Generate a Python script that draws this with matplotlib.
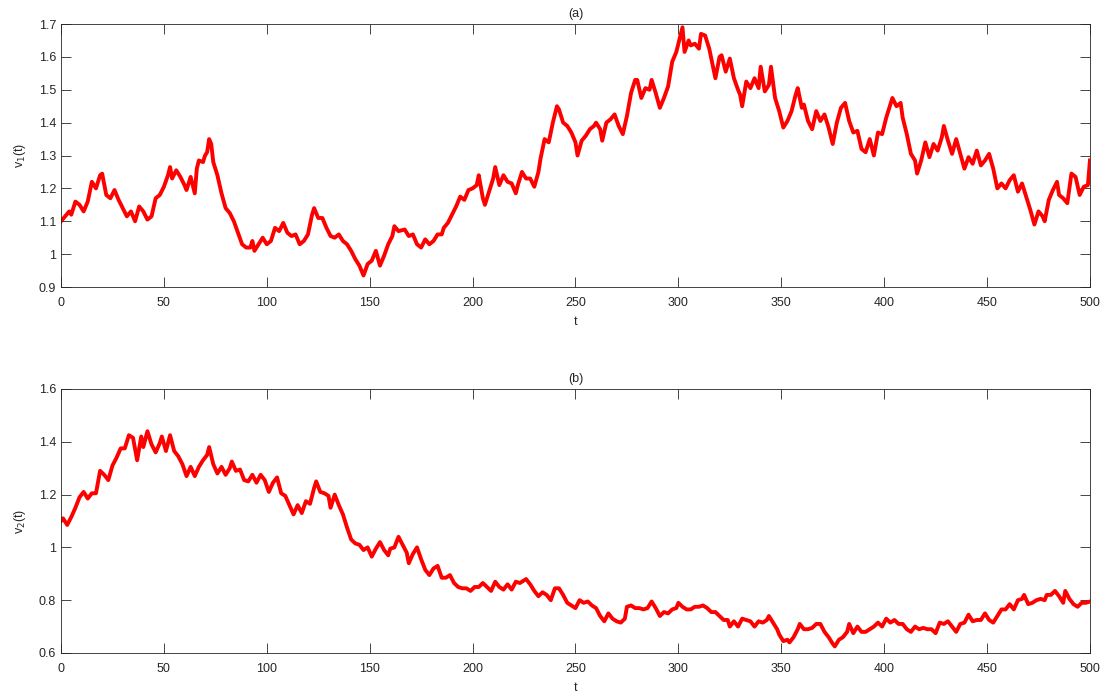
import matplotlib
matplotlib.use('Agg')
import matplotlib.pyplot as plt

# values
t1 = [0, 2, 4, 5, 7, 9, 11, 13, 15, 17, 19, 20, 22, 24, 26, 28, 30, 32, 34, 36,
      38, 40, 42, 44, 46, 48, 50, 52, 53, 54, 56, 58, 60, 61, 63, 65, 66, 67, 69, 70,
      71, 72, 73, 74, 76, 78, 80, 82, 84, 86, 88, 90, 92, 93, 94, 96, 98, 100, 102, 104,
      106, 108, 110, 112, 114, 116, 118, 120, 122, 123, 125, 127, 129, 131, 133, 135, 137, 139, 141, 143,
      145, 147, 149, 151, 153, 155, 157, 159, 161, 162, 164, 167, 169, 171, 173, 175, 177, 179, 181, 183,
      185, 186, 188, 190, 192, 194, 196, 198, 200, 202, 203, 205, 206, 208, 210, 211, 213, 215, 217, 219,
      221, 222, 224, 226, 228, 230, 232, 233, 235, 237, 239, 241, 242, 244, 246, 248, 250, 251, 253, 255,
      257, 259, 260, 262, 263, 265, 267, 269, 271, 273, 275, 277, 279, 280, 282, 284, 286, 287, 289, 291,
      293, 295, 297, 299, 301, 302, 303, 305, 306, 308, 310, 311, 313, 315, 316, 318, 320, 321, 323, 325,
      327, 329, 330, 331, 333, 335, 337, 339, 340, 342, 344, 345, 347, 349, 351, 353, 355, 357, 358, 360,
      361, 363, 365, 367, 369, 371, 373, 375, 377, 379, 381, 383, 385, 387, 389, 391, 393, 395, 397, 399,
      401, 403, 404, 406, 408, 409, 411, 413, 415, 416, 418, 420, 422, 424, 426, 428, 429, 431, 433, 435,
      437, 439, 441, 443, 445, 447, 449, 451, 453, 455, 457, 459, 461, 463, 465, 467, 469, 471, 473, 475,
      477, 478, 480, 482, 484, 485, 487, 489, 491, 493, 495, 497, 499, 500]
v1 = [1.10, 1.115, 1.13, 1.12, 1.16, 1.15, 1.13, 1.16, 1.22, 1.20, 1.24, 1.245, 1.18, 1.17, 1.195, 1.165, 1.14, 1.115, 1.13, 1.10,
      1.145, 1.13, 1.105, 1.115, 1.17, 1.18, 1.205, 1.24, 1.265, 1.23, 1.255, 1.235, 1.21, 1.195, 1.235, 1.185, 1.26, 1.285, 1.28, 1.30,
      1.31, 1.35, 1.335, 1.28, 1.24, 1.185, 1.14, 1.125, 1.10, 1.065, 1.03, 1.02, 1.02, 1.04, 1.01, 1.03, 1.05, 1.03, 1.04, 1.08,
      1.07, 1.095, 1.065, 1.055, 1.06, 1.03, 1.04, 1.06, 1.12, 1.14, 1.11, 1.11, 1.08, 1.055, 1.05, 1.06, 1.04, 1.03, 1.01, 0.985,
      0.965, 0.935, 0.97, 0.98, 1.01, 0.965, 0.995, 1.03, 1.055, 1.085, 1.07, 1.075, 1.055, 1.06, 1.03, 1.02, 1.045, 1.03, 1.04, 1.06,
      1.06, 1.08, 1.095, 1.12, 1.145, 1.175, 1.165, 1.195, 1.20, 1.21, 1.24, 1.17, 1.15, 1.19, 1.23, 1.265, 1.21, 1.24, 1.22, 1.215,
      1.185, 1.21, 1.25, 1.23, 1.23, 1.205, 1.25, 1.29, 1.35, 1.34, 1.40, 1.45, 1.44, 1.40, 1.39, 1.37, 1.34, 1.30, 1.345, 1.36,
      1.38, 1.39, 1.40, 1.38, 1.345, 1.40, 1.41, 1.425, 1.39, 1.365, 1.42, 1.49, 1.53, 1.53, 1.475, 1.505, 1.50, 1.53, 1.49, 1.445,
      1.475, 1.51, 1.585, 1.615, 1.665, 1.69, 1.615, 1.65, 1.635, 1.64, 1.625, 1.67, 1.665, 1.625, 1.595, 1.535, 1.60, 1.605, 1.555, 1.595,
      1.535, 1.50, 1.485, 1.45, 1.525, 1.505, 1.535, 1.505, 1.57, 1.495, 1.515, 1.57, 1.475, 1.435, 1.385, 1.405, 1.435, 1.485, 1.505, 1.445,
      1.455, 1.405, 1.38, 1.435, 1.405, 1.425, 1.385, 1.335, 1.40, 1.445, 1.46, 1.405, 1.37, 1.375, 1.32, 1.31, 1.35, 1.30, 1.37, 1.365,
      1.415, 1.455, 1.475, 1.45, 1.46, 1.415, 1.365, 1.305, 1.285, 1.245, 1.285, 1.34, 1.295, 1.335, 1.315, 1.355, 1.39, 1.345, 1.305, 1.35,
      1.305, 1.26, 1.295, 1.275, 1.315, 1.27, 1.285, 1.305, 1.26, 1.20, 1.215, 1.20, 1.225, 1.24, 1.19, 1.215, 1.175, 1.135, 1.09, 1.13,
      1.115, 1.10, 1.165, 1.195, 1.22, 1.18, 1.17, 1.155, 1.245, 1.235, 1.18, 1.205, 1.21, 1.285]

t2 = [0, 1, 3, 5, 7, 9, 11, 13, 15, 17, 19, 21, 23, 25, 27, 29, 31, 33, 35, 37,
      39, 40, 42, 44, 46, 48, 49, 51, 53, 55, 57, 59, 61, 63, 65, 67, 69, 71, 72, 74,
      76, 78, 80, 82, 83, 85, 87, 89, 91, 93, 95, 97, 99, 101, 103, 105, 107, 109, 111, 113,
      115, 117, 119, 121, 123, 124, 126, 128, 130, 131, 133, 135, 137, 139, 141, 143, 145, 147, 149, 151,
      153, 155, 157, 159, 160, 162, 164, 166, 168, 169, 171, 173, 175, 177, 179, 181, 183, 185, 187, 189,
      191, 193, 195, 197, 199, 201, 203, 205, 207, 209, 211, 213, 215, 217, 219, 221, 223, 225, 226, 228,
      230, 232, 234, 236, 238, 240, 242, 244, 246, 248, 250, 252, 254, 256, 258, 260, 262, 264, 266, 268,
      270, 272, 274, 275, 277, 279, 281, 283, 285, 287, 289, 291, 293, 295, 297, 299, 300, 302, 304, 306,
      308, 310, 312, 314, 316, 318, 320, 322, 324, 325, 327, 329, 331, 333, 335, 337, 339, 341, 343, 344,
      346, 348, 349, 351, 353, 354, 356, 358, 359, 361, 363, 365, 367, 369, 371, 373, 375, 376, 378, 380,
      382, 383, 385, 387, 389, 391, 393, 395, 397, 399, 401, 403, 405, 407, 409, 411, 413, 415, 417, 419,
      421, 423, 425, 427, 429, 431, 433, 435, 437, 439, 441, 443, 445, 447, 449, 451, 453, 455, 457, 459,
      461, 463, 465, 467, 468, 470, 472, 474, 476, 478, 479, 481, 483, 485, 487, 488, 490, 492, 494, 496,
      498, 500]
v2 = [1.10, 1.11, 1.085, 1.115, 1.15, 1.19, 1.21, 1.185, 1.205, 1.205, 1.29, 1.275, 1.255, 1.31, 1.34, 1.375, 1.375, 1.425, 1.415, 1.33,
      1.42, 1.38, 1.44, 1.39, 1.36, 1.395, 1.42, 1.365, 1.425, 1.365, 1.345, 1.315, 1.27, 1.305, 1.27, 1.305, 1.33, 1.35, 1.38, 1.315,
      1.28, 1.305, 1.275, 1.30, 1.325, 1.29, 1.295, 1.255, 1.25, 1.275, 1.245, 1.275, 1.255, 1.21, 1.245, 1.265, 1.205, 1.195, 1.16, 1.125,
      1.16, 1.13, 1.175, 1.165, 1.225, 1.25, 1.21, 1.205, 1.195, 1.15, 1.20, 1.16, 1.125, 1.075, 1.03, 1.015, 1.01, 0.99, 1.00, 0.965,
      0.995, 1.02, 0.99, 0.97, 0.995, 1.00, 1.04, 1.01, 0.98, 0.94, 0.975, 1.00, 0.955, 0.915, 0.895, 0.92, 0.93, 0.885, 0.885, 0.895,
      0.865, 0.85, 0.845, 0.845, 0.835, 0.85, 0.85, 0.865, 0.85, 0.835, 0.87, 0.85, 0.84, 0.86, 0.84, 0.87, 0.865, 0.875, 0.88, 0.86,
      0.835, 0.815, 0.83, 0.82, 0.80, 0.845, 0.845, 0.82, 0.79, 0.78, 0.77, 0.80, 0.79, 0.795, 0.78, 0.77, 0.74, 0.72, 0.75, 0.73,
      0.72, 0.715, 0.73, 0.775, 0.78, 0.77, 0.77, 0.765, 0.77, 0.795, 0.77, 0.74, 0.755, 0.75, 0.765, 0.77, 0.79, 0.775, 0.765, 0.765,
      0.775, 0.775, 0.78, 0.77, 0.755, 0.755, 0.74, 0.725, 0.725, 0.70, 0.72, 0.70, 0.73, 0.725, 0.72, 0.70, 0.72, 0.715, 0.725, 0.74,
      0.715, 0.69, 0.67, 0.645, 0.65, 0.64, 0.66, 0.69, 0.71, 0.69, 0.69, 0.695, 0.71, 0.71, 0.68, 0.66, 0.635, 0.625, 0.65, 0.66,
      0.68, 0.71, 0.675, 0.70, 0.68, 0.68, 0.69, 0.70, 0.715, 0.70, 0.73, 0.715, 0.725, 0.71, 0.71, 0.69, 0.68, 0.70, 0.69, 0.695,
      0.69, 0.69, 0.675, 0.715, 0.71, 0.72, 0.70, 0.68, 0.71, 0.715, 0.745, 0.72, 0.725, 0.725, 0.75, 0.725, 0.715, 0.74, 0.765, 0.765,
      0.785, 0.765, 0.80, 0.805, 0.82, 0.785, 0.79, 0.80, 0.805, 0.80, 0.82, 0.82, 0.835, 0.815, 0.79, 0.835, 0.805, 0.785, 0.775, 0.79,
      0.79, 0.795]

plt.rcParams['font.family'] = ['Liberation Sans', 'DejaVu Sans']
plt.rcParams['font.size'] = 9

fig = plt.figure(figsize=(11.07, 6.98), dpi=100)
ax1 = fig.add_axes([0.0551, 0.5888, 0.9295, 0.3768])
ax2 = fig.add_axes([0.0551, 0.0645, 0.9295, 0.3782])

panels = [(ax1, t1, v1, '(a)', r'v$_1$(t)', (0.9, 1.7), [0.9, 1.0, 1.1, 1.2, 1.3, 1.4, 1.5, 1.6, 1.7]),
          (ax2, t2, v2, '(b)', r'v$_2$(t)', (0.6, 1.6), [0.6, 0.8, 1.0, 1.2, 1.4, 1.6])]

for ax, t, v, title, ylab, ylim, yt in panels:
    ax.plot(t, v, color='#ff0000', lw=2.8)
    ax.set_xlim(0, 500)
    ax.set_ylim(*ylim)
    ax.set_xticks(range(0, 501, 50))
    ax.set_yticks(yt)
    ax.set_yticklabels(['%g' % y for y in yt])
    ax.set_title(title, fontsize=9, pad=5, color='#262626')
    ax.set_xlabel('t', labelpad=5, color='#262626')
    ax.set_ylabel(ylab, labelpad=8, color='#262626')
    ax.tick_params(direction='in', length=7, width=0.6, top=True, right=True,
                   colors='#262626', labelsize=9)
    ax.tick_params(axis='x', pad=7)
    for sp in ax.spines.values():
        sp.set_color('#262626')
        sp.set_linewidth(0.6)

fig.savefig('out.png', dpi=100)
